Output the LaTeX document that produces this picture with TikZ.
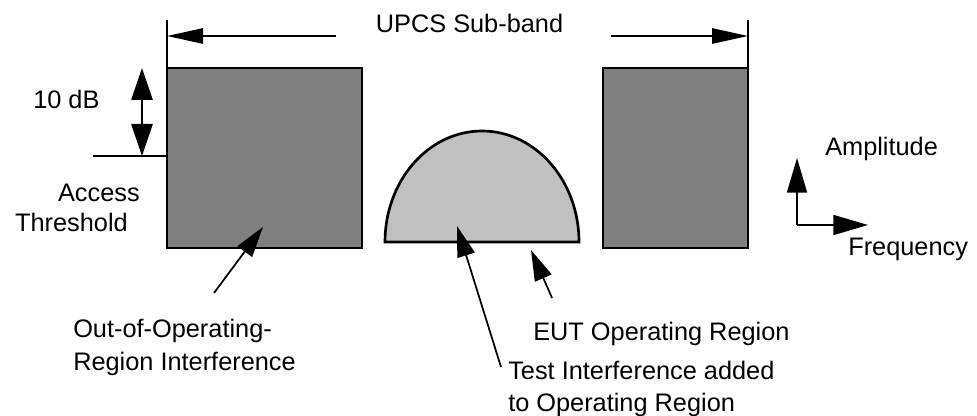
\documentclass[tikz,border=0pt]{standalone}
\usepackage{fontspec}
\setmainfont{Liberation Sans}
\usetikzlibrary{arrows.meta}
\definecolor{darkband}{HTML}{808080}
\definecolor{lightband}{HTML}{C0C0C0}
\begin{document}
\begin{tikzpicture}[x=0.75pt,y=0.75pt,
  lbl/.style={font=\fontsize{19}{23}\selectfont, inner sep=0pt},
  axistip/.style={-{Triangle[length=26pt,width=15pt]}, line width=1.3pt},
  pointtip/.style={-{Triangle[length=23pt,width=13.5pt]}, line width=1.3pt},
  toptip/.style={-{Triangle[length=27pt,width=11.5pt]}, line width=1.3pt},
  dbltip/.style={{Triangle[length=24pt,width=16pt]}-{Triangle[length=24pt,width=16pt]}, line width=1.3pt},
  thin line/.style={line width=1.3pt},
  band/.style={draw=black, line width=2pt, fill=darkband, inner sep=0pt, outer sep=0pt, anchor=north west}]
\useasboundingbox (0,0) rectangle (977,-416);

% interference blocks
\node[band, minimum width=146.25pt, minimum height=135pt] (lbox) at (167,-68) {};
\node[band, minimum width=108.75pt, minimum height=135pt] (rbox) at (603,-68) {};

% operating region (half ellipse)
\coordinate (eutL) at (385,-242);
\coordinate (eutR) at (579,-242);
\draw[line width=2pt, fill=lightband] (eutL) arc[start angle=180, end angle=0, x radius=97, y radius=111] -- (eutL) -- cycle;

% sub-band ticks and arrows
\coordinate (ltick) at (167,-20);
\coordinate (rtick) at (748,-20);
\draw[thin line] (ltick) -- (lbox.north west);
\draw[thin line] (rtick) -- (rbox.north east);
\coordinate (larrowS) at (336,-36);
\coordinate (larrowE) at (167,-36);
\coordinate (rarrowS) at (611,-36);
\coordinate (rarrowE) at (748,-36);
\draw[toptip] (larrowS) -- (larrowE);
\draw[toptip] (rarrowS) -- (rarrowE);
\node[lbl, anchor=base] (upcs) at (469.5,-33) {UPCS Sub-band};

% 10 dB and threshold
\coordinate (dbTop) at (142,-68);
\coordinate (dbBot) at (142,-156);
\draw[dbltip] (dbTop) -- (dbBot);
\coordinate (thrL) at (93,-156);
\coordinate (thrR) at (167,-156);
\draw[thin line] (thrL) -- (thrR);
\node[lbl, anchor=base west] (db) at (33,-109) {10 dB};
\node[lbl, anchor=base east] (acc) at (140,-202) {Access};
\node[lbl, anchor=base east] (thr) at (128,-232) {Threshold};

% axes
\coordinate (org) at (797,-225);
\coordinate (ampT) at (797,-158);
\coordinate (frqT) at (868,-225);
\draw[axistip] (org) -- (ampT);
\draw[axistip] (org) -- (frqT);
\node[lbl, anchor=base west] (amp) at (825,-156) {Amplitude};
\node[lbl, anchor=base west] (frq) at (848,-256) {Frequency};

% pointer labels
\node[lbl, anchor=base west] (oor1) at (73,-338) {Out-of-Operating-};
\node[lbl, anchor=base west] (oor2) at (73,-370) {Region Interference};
\node[lbl, anchor=base west] (eut) at (533,-340) {EUT Operating Region};
\node[lbl, anchor=base west] (tst1) at (508,-379) {Test Interference added};
\node[lbl, anchor=base west] (tst2) at (508,-411) {to Operating Region};

\coordinate (oorS) at (214,-293);
\coordinate (oorE) at (263,-227);
\coordinate (tstS) at (501,-367);
\coordinate (tstE) at (457,-226);
\coordinate (eutS) at (552,-298);
\coordinate (eutE) at (531,-250);
\draw[pointtip] (oorS) -- (oorE);
\draw[pointtip] (tstS) -- (tstE);
\draw[pointtip] (eutS) -- (eutE);
\end{tikzpicture}
\end{document}
